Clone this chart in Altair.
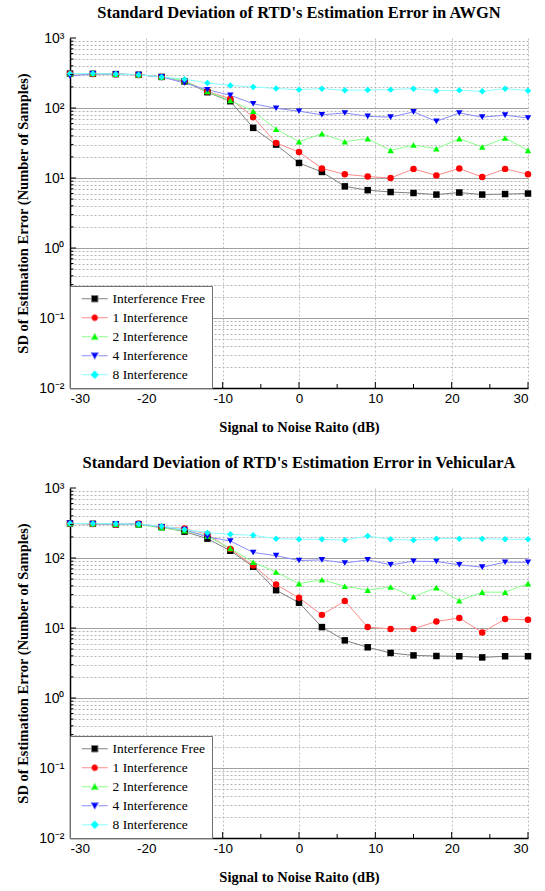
import altair as alt
import pandas as pd

# ---------------- data ----------------
snr_db = list(range(-30, 31, 3))
series_names = ["Interference Free", "1 Interference", "2 Interference", "4 Interference", "8 Interference"]
marker_colors = ["#000000", "#ff0000", "#00ff00", "#0000ff", "#00ffff"]
line_colors = ["#808080", "#ff8a8a", "#8aff8a", "#8a8aff", "#8affff"]
marker_shapes = ["square", "circle", "triangle-up", "triangle-down", "diamond"]

# AWGN
awgn_free = [310, 308, 305, 298, 278, 240, 168, 125, 52, 30, 16.4, 12.2, 7.6, 6.7, 6.3, 6.1, 5.8, 6.2, 5.8, 5.9, 6.0]
awgn_1 = [308, 306, 303, 297, 278, 245, 172, 136, 74, 31.6, 23.5, 13.7, 11.3, 10.5, 10.0, 13.5, 10.9, 13.7, 10.3, 13.5, 11.3]
awgn_2 = [308, 312, 305, 300, 278, 245, 172, 128, 90, 50, 33, 43, 33, 36.5, 24.8, 29.6, 26.2, 36.5, 27.7, 37.3, 24.8]
awgn_4 = [285, 308, 305, 300, 278, 228, 182, 152, 115, 99, 90, 80, 85, 76, 74, 88, 64.5, 85, 74, 79, 72]
awgn_8 = [310, 310, 305, 298, 278, 258, 228, 210, 200, 190, 183, 189, 179, 181, 183, 189, 177, 179, 173, 189, 177]

# VehicularA
veh_free = [312, 308, 302, 302, 276, 238, 189, 127, 75, 34.7, 23, 10.3, 6.66, 5.3, 4.4, 4.06, 3.98, 3.95, 3.8, 3.95, 3.95]
veh_1 = [310, 306, 302, 310, 278, 265, 218, 134, 78, 41.7, 27, 15.4, 24.3, 10.3, 9.7, 9.7, 12.4, 13.9, 8.65, 13.4, 13.1]
veh_2 = [312, 308, 305, 300, 270, 245, 205, 137, 87, 63, 43, 49, 39.5, 34.7, 38.6, 27.9, 37.8, 24.5, 32.5, 32.5, 43]
veh_4 = [312, 308, 305, 305, 278, 255, 200, 175, 120, 108, 92, 94, 85, 94, 80, 90, 89, 80, 74, 87, 87]
veh_8 = [312, 310, 308, 305, 285, 256, 230, 218, 211, 189, 185, 185, 180, 206, 185, 180, 189, 189, 189, 185, 185]

titles = ["Standard Deviation of RTD's Estimation Error in AWGN",
          "Standard Deviation of RTD's Estimation Error in VehicularA"]
x_title = "Signal to Noise Raito (dB)"
y_title = "SD of Estimation Error (Number of Samples)"

x_label_values = [-30, -20, -10, 0, 10, 20, 30]
x_minor_ticks = [-25, -15, -5, 5, 15, 25]
y_decades = [0.01, 0.1, 1, 10, 100, 1000]
y_minor = [m * d for d in [0.01, 0.1, 1, 10, 100] for m in range(2, 10)]
y_all = sorted(y_decades + y_minor)

# legend symbols: marker with a short line through it
legend_paths = [
    "M-4,0H-1M1,0H4M-1,-1H1V1H-1Z",
    "M-4,0H-1M1,0H4M-1,0A1,1 0 1,0 1,0A1,1 0 1,0 -1,0Z",
    "M-4,0H-1.1M1.1,0H4M0,-1.1L1.15,0.9H-1.15Z",
    "M-4,0H-1.1M1.1,0H4M0,1.1L1.15,-0.9H-1.15Z",
    "M-4,0H-1.3M1.3,0H4M0,-1.3L1.3,0L0,1.3L-1.3,0Z",
]

W, H = 458, 350
SERIF = "Liberation Serif"
SANS = "Liberation Sans"


def make_df(lists):
    rows = []
    for name, vals in zip(series_names, lists):
        for x, v in zip(snr_db, vals):
            rows.append({"snr": x, "sd": v, "series": name})
    return pd.DataFrame(rows)


xscale = alt.Scale(domain=[-30, 30], nice=False, zero=False)
yscale = alt.Scale(type="log", domain=[0.01, 1000], nice=False)

decade_test = "abs(log(datum.value)/LN10 - round(log(datum.value)/LN10)) < 0.001"
y_label_expr = ("abs(datum.value-1000)<1e-6 ? '10\u00b3' : abs(datum.value-100)<1e-6 ? '10\u00b2' : "
                "abs(datum.value-10)<1e-6 ? '10\u00b9' : abs(datum.value-1)<1e-6 ? '10\u2070' : "
                "abs(datum.value-0.1)<1e-9 ? '10\u207b\u00b9' : abs(datum.value-0.01)<1e-9 ? '10\u207b\u00b2' : ''")

yaxis = alt.Axis(
    values=y_all, labelExpr=y_label_expr, title=y_title, ticks=False,
    grid=True,
    gridDash={"condition": {"test": decade_test, "value": []}, "value": [2, 2]},
    gridColor={"condition": {"test": decade_test, "value": "#a0a0a0"}, "value": "#b4b4b4"},
    gridOpacity={"condition": {"test": "datum.value > 999", "value": 0}, "value": 1},
    domainColor="black", domainWidth=1.5,
    labelFont=SANS, labelFontSize=14, labelColor="black", labelPadding=6,
    titleFont=SERIF, titleFontSize=14.5, titleFontWeight="bold", titleColor="black", titlePadding=8,
    labelOverlap=False,
)
xaxis = alt.Axis(
    values=x_label_values, labelExpr="'' + datum.value", title=x_title, ticks=False,
    grid=True, gridDash=[2, 2], gridColor="#c0c0c0",
    domainColor="black", domainWidth=1.5,
    labelFont=SANS, labelFontSize=13.5, labelColor="black", labelPadding=3,
    titleFont=SERIF, titleFontSize=14.5, titleFontWeight="bold", titleColor="black", titlePadding=16,
)

legend_props = dict(
    title=None, orient="bottom-left", offset=0, fillColor="white", strokeColor="#707070",
    padding=6, labelFont=SERIF, labelFontSize=13.5, labelColor="black",
    symbolSize=42, symbolStrokeWidth=1, symbolOffset=12, labelOffset=11, rowPadding=4,
    symbolOpacity=1,
)


def panel(lists, title):
    df = make_df(lists)
    X = alt.X("snr:Q", scale=xscale, axis=xaxis)
    Y = alt.Y("sd:Q", scale=yscale, axis=yaxis)
    color_scale = alt.Scale(domain=series_names, range=marker_colors)

    lines = alt.Chart(df).mark_line(strokeWidth=1).encode(
        x=X, y=Y,
        color=alt.Color("series:N", scale=alt.Scale(domain=series_names, range=line_colors), legend=None),
    )
    points = alt.Chart(df).mark_point(filled=True, size=42, opacity=1).encode(
        x=X, y=Y,
        color=alt.Color("series:N", scale=color_scale, legend=None),
        shape=alt.Shape("series:N", scale=alt.Scale(domain=series_names, range=marker_shapes), legend=None),
    )
    legend_layer = alt.Chart(df).mark_point(filled=True, opacity=0, strokeWidth=1).encode(
        x=X, y=Y,
        color=alt.Color("series:N", scale=color_scale, legend=alt.Legend(**legend_props)),
        stroke=alt.Stroke("series:N", scale=alt.Scale(domain=series_names, range=line_colors),
                          legend=alt.Legend(**legend_props)),
        shape=alt.Shape("series:N", scale=alt.Scale(domain=series_names, range=legend_paths),
                        legend=alt.Legend(**legend_props)),
    )

    ymaj = pd.DataFrame({"sd": [v for v in y_decades if v > 0.01]})
    ymin = pd.DataFrame({"sd": y_minor})
    xmaj = pd.DataFrame({"snr": [v for v in x_label_values if -30 < v]})
    xmin = pd.DataFrame({"snr": x_minor_ticks})

    ytick_major = alt.Chart(ymaj).mark_rule(color="black", strokeWidth=1).encode(
        y=Y, x=alt.value(0), x2=alt.value(6))
    ytick_minor = alt.Chart(ymin).mark_rule(color="black", strokeWidth=1).encode(
        y=Y, x=alt.value(0), x2=alt.value(3.5))
    xtick_major = alt.Chart(xmaj).mark_rule(color="black", strokeWidth=1).encode(
        x=X, y=alt.value(H), y2=alt.value(H - 6))
    xtick_minor = alt.Chart(xmin).mark_rule(color="black", strokeWidth=1).encode(
        x=X, y=alt.value(H), y2=alt.value(H - 4))

    return alt.layer(
        lines, points, legend_layer, ytick_major, ytick_minor, xtick_major, xtick_minor
    ).resolve_scale(
        color="independent", shape="independent", stroke="independent"
    ).properties(
        width=W, height=H,
        title=alt.TitleParams(title, font=SERIF, fontSize=16.5, fontWeight="bold", color="black",
                              anchor="middle", offset=10),
    )


chart = alt.vconcat(
    panel([awgn_free, awgn_1, awgn_2, awgn_4, awgn_8], titles[0]),
    panel([veh_free, veh_1, veh_2, veh_4, veh_8], titles[1]),
    spacing=20,
).properties(
    padding={"left": 15, "top": 4, "right": 5, "bottom": 5},
    background="white",
).configure_view(
    stroke=None
).configure_legend(
    labelFont=SERIF, labelFontSize=13.5, labelColor="black"
)

chart.save("out.html", embed_options={"renderer": "svg", "actions": False})
